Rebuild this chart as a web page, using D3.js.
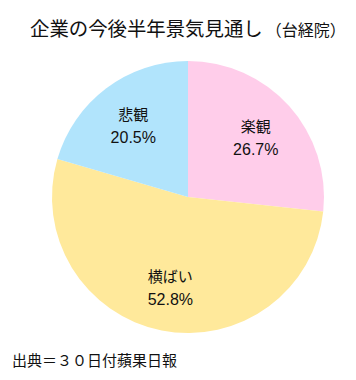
<!DOCTYPE html>
<html><head><meta charset="utf-8">
<script src="https://cdn.jsdelivr.net/npm/d3@7"></script>
<style>
html,body{margin:0;padding:0;background:#fff;}
text{font-family:"Noto Sans CJK JP","Noto Sans",sans-serif;fill:#111;}
</style></head>
<body>
<svg id="chart" width="356" height="380"></svg>
<script>
const categories = ["楽観", "横ばい", "悲観"];
const values = [26.7, 52.8, 20.5];
const colors = ["#FFCDEA", "#FFE99B", "#B1E4FC"];
const titleMain = "企業の今後半年景気見通し";
const titleSub = "（台経院）";
const source = "出典＝３０日付蘋果日報";

const svg = d3.select("#chart");
const cx = 188, cy = 197, r = 136;

const t = svg.append("text").attr("x", 30).attr("y", 36);
t.append("tspan").attr("font-size", 19.4).text(titleMain);
t.append("tspan").attr("font-size", 16).attr("dx", 3).text(titleSub);

const data = categories.map((c, i) => ({c, v: values[i], col: colors[i]}));
const pie = d3.pie().value(d => d.v).sort(null);
const arc = d3.arc().innerRadius(0).outerRadius(r);
const labelArc = d3.arc().innerRadius(r * 0.67).outerRadius(r * 0.67);

const g = svg.append("g").attr("transform", `translate(${cx},${cy})`);
const arcs = pie(data);
g.selectAll("path").data(arcs).join("path")
  .attr("d", arc).attr("fill", d => d.data.col);

const lab = g.selectAll("g.lab").data(arcs).join("g").attr("class", "lab")
  .attr("transform", d => `translate(${labelArc.centroid(d)})`);
lab.append("text").attr("text-anchor", "middle").attr("y", -4)
  .attr("font-size", 15).text(d => d.data.c);
lab.append("text").attr("text-anchor", "middle").attr("y", 19)
  .attr("font-size", 16).style("font-family", "'Liberation Sans', Arial, sans-serif")
  .text(d => d.data.v.toFixed(1) + "%");

svg.append("text").attr("x", 12).attr("y", 366).attr("font-size", 15).text(source);
</script>
</body></html>
